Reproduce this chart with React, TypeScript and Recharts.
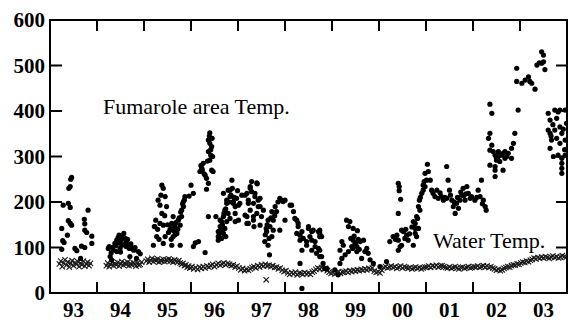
import React from "react";
import { ScatterChart, Scatter, XAxis, YAxis } from "recharts";

// fumarole area temperature, [decimal year, °C]
const fum93 = [
  [1993.46, 254], [1993.44, 250], [1993.43, 234], [1993.4, 230], [1993.28, 193], [1993.39, 197],
  [1993.43, 188], [1993.81, 182], [1993.73, 162], [1993.74, 152], [1993.39, 159], [1993.43, 153],
  [1993.46, 149], [1993.25, 142], [1993.74, 138], [1993.78, 133], [1993.37, 127], [1993.89, 125],
  [1993.27, 115], [1993.3, 111], [1993.89, 109], [1993.53, 98], [1993.57, 93], [1993.67, 103],
  [1993.74, 100], [1993.25, 96], [1993.65, 76],
];
const fum94 = [
  [1994.24, 98], [1994.28, 80], [1994.31, 73], [1994.38, 109], [1994.42, 116], [1994.45, 122],
  [1994.49, 113], [1994.53, 105], [1994.57, 131], [1994.6, 120], [1994.63, 113], [1994.67, 103],
  [1994.69, 98], [1994.74, 100], [1994.81, 100], [1994.88, 91], [1994.7, 80], [1994.84, 76],
  [1994.35, 94], [1994.42, 91], [1994.49, 98], [1994.4, 104], [1994.46, 110], [1994.52, 118],
  [1994.55, 124], [1994.58, 108], [1994.62, 102], [1994.5, 90], [1994.3, 88], [1994.26, 102],
  [1994.65, 118], [1994.72, 108], [1994.78, 94], [1994.92, 86], [1994.47, 127], [1994.33, 100],
];
const fum95 = [
  [1995.38, 237], [1995.41, 230], [1995.3, 204], [1995.45, 212], [1995.34, 193], [1995.48, 190],
  [1995.38, 175], [1995.23, 146], [1995.34, 153], [1995.41, 149], [1995.27, 124], [1995.2, 105],
  [1995.45, 124], [1995.41, 109], [1995.62, 168], [1995.59, 153], [1995.66, 146], [1995.55, 138],
  [1995.7, 131], [1995.62, 124], [1995.77, 149], [1995.8, 168], [1995.84, 190], [1995.87, 212],
  [1995.84, 201], [1995.8, 182], [1995.73, 160], [1995.59, 105], [1995.77, 105], [1995.96, 213],
  [1995.25, 160], [1995.29, 140], [1995.32, 118], [1995.36, 215], [1995.44, 170], [1995.5, 150],
  [1995.52, 133], [1995.57, 142], [1995.64, 136], [1995.68, 155], [1995.72, 140], [1995.75, 165],
  [1995.78, 178], [1995.82, 196], [1995.66, 128], [1995.58, 118], [1995.86, 205], [1995.22, 146],
];
const fum96 = [
  [1996.0, 237], [1996.05, 219], [1996.4, 352], [1996.37, 336], [1996.4, 329], [1996.44, 322],
  [1996.37, 311], [1996.42, 303], [1996.46, 300], [1996.4, 292], [1996.26, 285], [1996.23, 274],
  [1996.19, 267], [1996.3, 259], [1996.33, 252], [1996.44, 270], [1996.37, 241], [1996.33, 228],
  [1996.47, 267], [1996.21, 280], [1996.28, 262], [1996.35, 290], [1996.42, 315], [1996.45, 340],
  [1996.39, 345], [1996.24, 270], [1996.37, 168], [1996.53, 168], [1996.09, 110], [1996.05, 102],
  [1996.16, 113], [1996.3, 89], [1996.87, 248], [1996.79, 226], [1996.83, 212], [1996.76, 197],
  [1996.9, 201], [1996.72, 182], [1996.79, 175], [1996.69, 168], [1996.65, 157], [1996.62, 146],
  [1996.58, 135], [1996.58, 124], [1996.65, 120], [1996.69, 131], [1996.72, 142], [1996.76, 157],
  [1996.83, 164], [1996.94, 190], [1996.97, 208], [1996.74, 124], [1996.69, 219], [1996.83, 226],
  [1996.76, 204], [1996.9, 197], [1996.94, 175], [1996.62, 160], [1996.58, 116], [1996.6, 130],
  [1996.67, 150], [1996.7, 175], [1996.74, 185], [1996.81, 200], [1996.85, 215], [1996.88, 230],
  [1996.92, 210], [1996.99, 225], [1996.63, 138], [1996.94, 157],
];
const fum97 = [
  [1997.01, 193], [1997.08, 215], [1997.04, 197], [1997.19, 168], [1997.01, 160], [1997.29, 245],
  [1997.41, 240], [1997.26, 234], [1997.19, 219], [1997.29, 223], [1997.36, 212], [1997.43, 204],
  [1997.22, 204], [1997.33, 197], [1997.47, 190], [1997.26, 182], [1997.4, 175], [1997.5, 168],
  [1997.33, 160], [1997.19, 153], [1997.47, 149], [1997.4, 242], [1997.26, 230], [1997.36, 219],
  [1997.15, 215], [1997.47, 208], [1997.22, 197], [1997.43, 190], [1997.15, 171], [1997.33, 168],
  [1997.22, 153], [1997.34, 146], [1997.54, 182], [1997.89, 208], [1997.96, 201], [1997.79, 190],
  [1997.72, 179], [1997.82, 179], [1997.64, 160], [1997.75, 160], [1997.68, 146], [1997.61, 135],
  [1997.75, 138], [1997.72, 124], [1997.57, 113], [1997.64, 105], [1997.89, 138], [1997.67, 84],
  [1997.62, 150], [1997.66, 120], [1997.7, 165], [1997.78, 170], [1997.58, 128], [1997.85, 200],
  [1997.92, 204], [1997.6, 142],
];
const fum98 = [
  [1998.0, 160], [1998.0, 204], [1998.11, 193], [1998.14, 193], [1998.18, 179], [1998.21, 164],
  [1998.25, 160], [1998.28, 146], [1998.28, 153], [1998.36, 135], [1998.32, 127], [1998.25, 131],
  [1998.39, 120], [1998.32, 116], [1998.5, 142], [1998.57, 135], [1998.71, 135], [1998.74, 131],
  [1998.53, 124], [1998.64, 113], [1998.46, 113], [1998.36, 94], [1998.57, 94], [1998.71, 98],
  [1998.74, 80], [1998.32, 65], [1998.36, 10], [1998.85, 54], [1998.5, 146], [1998.6, 138],
  [1998.57, 116], [1998.46, 105], [1998.64, 102], [1998.67, 87], [1998.81, 65], [1998.74, 124],
  [1998.78, 124], [1998.74, 138], [1998.74, 94], [1998.78, 80], [1998.89, 54],
];
const fum99 = [
  [1999.06, 51], [1999.13, 40], [1999.17, 65], [1999.31, 160], [1999.38, 157], [1999.35, 146],
  [1999.45, 142], [1999.54, 137], [1999.21, 113], [1999.24, 105], [1999.17, 94], [1999.28, 84],
  [1999.21, 76], [1999.45, 116], [1999.49, 109], [1999.53, 102], [1999.6, 113], [1999.67, 116],
  [1999.42, 102], [1999.35, 91], [1999.53, 91], [1999.74, 98], [1999.63, 76], [1999.77, 87],
  [1999.81, 73], [1999.88, 65], [1999.7, 91], [1999.4, 120], [1999.47, 125], [1999.56, 118],
  [1999.5, 110], [1999.44, 98], [1999.58, 96],
];
const fum00 = [
  [2000.02, 58], [2000.16, 69], [2000.41, 241], [2000.43, 234], [2000.43, 225], [2000.46, 206],
  [2000.41, 175], [2000.23, 113], [2000.3, 124], [2000.38, 127], [2000.41, 116], [2000.52, 135],
  [2000.48, 105], [2000.59, 127], [2000.62, 116], [2000.48, 138], [2000.55, 120], [2000.41, 94],
  [2000.45, 102], [2000.73, 157], [2000.8, 168], [2000.84, 190], [2000.77, 142], [2000.8, 124],
  [2000.73, 105], [2000.77, 131], [2000.77, 153], [2000.82, 164], [2000.84, 142], [2000.87, 182],
  [2000.86, 204], [2000.91, 219], [2000.94, 237], [2000.98, 234], [2000.98, 263], [2000.94, 226],
  [2000.65, 130], [2000.7, 145], [2000.88, 210], [2000.96, 245], [2000.35, 118], [2000.57, 140],
];
const fum01 = [
  [2001.01, 248], [2001.05, 267], [2001.03, 283], [2001.09, 248], [2001.12, 226], [2001.15, 219],
  [2001.23, 226], [2001.19, 212], [2001.26, 208], [2001.33, 212], [2001.37, 204], [2001.44, 278],
  [2001.47, 248], [2001.5, 226], [2001.44, 208], [2001.55, 204], [2001.58, 190], [2001.62, 175],
  [2001.65, 197], [2001.72, 204], [2001.76, 215], [2001.79, 230], [2001.87, 234], [2001.9, 219],
  [2001.83, 204], [2001.69, 186], [2001.94, 208], [2001.52, 215], [2001.6, 200], [2001.67, 210],
  [2001.74, 222], [2001.8, 214], [2001.4, 210], [2001.3, 220], [2001.85, 218], [2001.97, 212],
];
const fum02 = [
  [2002.04, 204], [2002.11, 226], [2002.18, 248], [2002.15, 212], [2002.22, 204], [2002.26, 190],
  [2002.28, 182], [2002.08, 210], [2002.2, 196], [2002.36, 415], [2002.4, 395], [2002.36, 351],
  [2002.33, 340], [2002.36, 314], [2002.43, 311], [2002.47, 303], [2002.5, 296], [2002.36, 281],
  [2002.47, 270], [2002.61, 303], [2002.68, 311], [2002.72, 300], [2002.54, 300], [2002.4, 325],
  [2002.54, 311], [2002.64, 307], [2002.75, 307], [2002.82, 318], [2002.86, 329], [2002.89, 351],
  [2002.68, 296], [2002.5, 292], [2002.57, 289], [2002.47, 278], [2002.64, 270], [2002.47, 256],
  [2002.82, 296], [2002.96, 402], [2002.93, 494], [2002.93, 465],
];
const fum03 = [
  [2003.04, 461], [2003.11, 468], [2003.18, 475], [2003.21, 465], [2003.25, 461], [2003.32, 448],
  [2003.36, 501], [2003.41, 506], [2003.46, 505], [2003.5, 508], [2003.53, 491], [2003.46, 530],
  [2003.5, 523], [2003.6, 395], [2003.64, 380], [2003.6, 358], [2003.64, 351], [2003.67, 336],
  [2003.64, 318], [2003.74, 402], [2003.81, 398], [2003.85, 402], [2003.96, 402], [2003.78, 384],
  [2003.85, 365], [2003.74, 358], [2003.89, 351], [2003.78, 340], [2003.85, 329], [2003.96, 336],
  [2003.71, 300], [2003.81, 303], [2003.89, 296], [2003.96, 303], [2003.89, 285], [2003.89, 274],
  [2003.89, 263], [2003.99, 373], [2003.7, 370], [2003.66, 345], [2003.92, 360], [2003.95, 315],
];

// water temperature, regular samples: start year, step (years), values
const water93 = [64, 70, 58, 66, 73, 61, 68, 57, 65, 71, 60, 67, 63, 69, 58, 66, 62, 70, 59, 64, 68, 60, 65];
const water94 = [60, 66, 58, 63, 68, 60, 65, 62, 67, 59, 64, 69, 61, 66, 63, 68, 60, 65, 62, 67, 64, 59, 66, 61, 63, 68];
const water95 = [
  70, 74, 68, 72, 76, 69, 73, 71, 75, 68, 72, 70, 74, 69, 73, 71, 75, 70, 72, 68, 73, 70, 67, 71,
  66, 63, 65, 60, 62, 57, 59, 55,
];
const water96to99 = [
  55, 58, 53, 56, 52, 57, 54, 58, 55, 59, 57,
  60, 63, 58, 62, 65, 61, 64, 66, 62, 65, 63, 60, 62, 57, 59,
  55, 51, 54, 49, 52, 50,
  53, 56, 58, 55, 60, 57, 62, 59, 63, 60, 61, 58, 60, 56, 57, 53, 55,
  50, 47, 49,
  44, 41, 45, 42, 46, 40, 44, 43, 41, 45, 42, 44, 41, 46,
  48, 52, 55, 53, 56, 52, 54, 49,
  46, 43, 45, 42, 44, 47, 43, 46,
  46, 48, 45, 49, 47, 50, 48, 51, 49, 52, 50, 53, 51, 54, 52, 55,
  48, 45, 47, 44, 50,
];
const water00to03 = [
  56, 58, 55, 57, 59, 56, 58, 54, 57, 59, 55, 58, 56,
  54, 56, 53, 55, 57, 54, 56, 53, 55, 57,
  57, 59, 56, 60, 58, 61, 57, 59, 60, 58, 56,
  55, 57, 54, 56, 58, 55, 53, 56, 57, 54, 56, 58, 55,
  56, 58, 57, 59, 56, 58, 60, 57, 59, 56, 58, 55,
  53, 50, 52, 49, 51, 54,
  56, 58, 57, 60, 62, 61, 64, 63, 66, 68, 67, 70, 69, 72,
  74, 77, 75, 78, 76, 79, 77, 80, 78, 76, 79, 81, 78, 80, 77, 79, 82, 80, 78,
];
const waterOutlier = [[1997.6, 29]];

const yearTicks = [1994, 1995, 1996, 1997, 1998, 1999, 2000, 2001, 2002, 2003];
const yearLabelTicks = [1993.5, 1994.5, 1995.5, 1996.5, 1997.5, 1998.5, 1999.5, 2000.5, 2001.5, 2002.5, 2003.5];
const tempTicks = [0, 100, 200, 300, 400, 500, 600];
const innerTempTicks = [100, 200, 300, 400, 500];

const pairs = (arr: number[][]) => arr.map(([t, v]) => ({ t, v }));
const series = (start: number, step: number, vals: number[]) =>
  vals.map((v, i) => ({ t: +(start + i * step).toFixed(3), v }));

const fumarole = pairs([...fum93, ...fum94, ...fum95, ...fum96, ...fum97, ...fum98, ...fum99, ...fum00, ...fum01, ...fum02, ...fum03]);
const water = [
  ...series(1993.2, 0.03, water93),
  ...series(1994.2, 0.03, water94),
  ...series(1995.05, 0.03, water95),
  ...series(1995.98, 0.04, water96to99),
  ...series(2000.1, 0.04, water00to03),
  ...pairs(waterOutlier),
];

const W = 568;
const H = 324;
const Y_AXIS_W = 50;
const X_AXIS_H = 31;
const MARGIN = { top: 20, right: 1, bottom: 0, left: 0 };
const X_DOMAIN = [1993, 2004];
const Y_DOMAIN = [0, 600];
const TICK = 11;

// plot box, same as the chart's offsets
const plotL = MARGIN.left + Y_AXIS_W;
const plotT = MARGIN.top;
const plotR = W - MARGIN.right;
const plotB = H - MARGIN.bottom - X_AXIS_H;
const sx = (t: number) => plotL + ((t - X_DOMAIN[0]) / (X_DOMAIN[1] - X_DOMAIN[0])) * (plotR - plotL);
const sy = (v: number) => plotB - ((v - Y_DOMAIN[0]) / (Y_DOMAIN[1] - Y_DOMAIN[0])) * (plotB - plotT);

const serif = "Liberation Serif";
const tickFont = { fontFamily: serif, fontWeight: 700, fontSize: 21, fill: "#000" };

const Dot = (p: any) => <circle cx={p.cx} cy={p.cy} r={2.6} fill="#000" />;
const Cross = (p: any) => (
  <g stroke="#1a1a1a" strokeWidth={1.1}>
    <line x1={p.cx - 2.7} y1={p.cy - 2.7} x2={p.cx + 2.7} y2={p.cy + 2.7} />
    <line x1={p.cx - 2.7} y1={p.cy + 2.7} x2={p.cx + 2.7} y2={p.cy - 2.7} />
  </g>
);

// box frame with inward ticks on all four sides
function Frame() {
  return (
    <svg width={W} height={H} style={{ position: "absolute", left: 0, top: 0, pointerEvents: "none" }}>
      <g stroke="#000" strokeWidth={2} fill="none">
        <rect x={plotL} y={plotT} width={plotR - plotL} height={plotB - plotT} />
        {yearTicks.map((t) => (
          <g key={t}>
            <line x1={sx(t)} x2={sx(t)} y1={plotB} y2={plotB - TICK} />
            <line x1={sx(t)} x2={sx(t)} y1={plotT} y2={plotT + TICK} />
          </g>
        ))}
        {innerTempTicks.map((v) => (
          <g key={v}>
            <line x1={plotL} x2={plotL + TICK + 1} y1={sy(v)} y2={sy(v)} />
            <line x1={plotR} x2={plotR - TICK} y1={sy(v)} y2={sy(v)} />
          </g>
        ))}
      </g>
    </svg>
  );
}

const labelStyle: React.CSSProperties = {
  position: "absolute",
  fontFamily: serif,
  fontSize: 22,
  lineHeight: "22px",
  color: "#000",
  whiteSpace: "nowrap",
};

export default function App() {
  return (
    <div style={{ position: "absolute", left: 0, top: 0, width: W, height: H, background: "#fff" }}>
      <ScatterChart width={W} height={H} margin={MARGIN}>
        <XAxis xAxisId="t" type="number" dataKey="t" domain={X_DOMAIN} ticks={yearLabelTicks}
          height={X_AXIS_H} tickSize={0} tickMargin={9} axisLine={false} tickLine={false} tick={tickFont}
          tickFormatter={(v: number) => String(Math.floor(v)).slice(2)} allowDataOverflow />
        <YAxis yAxisId="v" type="number" dataKey="v" domain={Y_DOMAIN} ticks={tempTicks} width={Y_AXIS_W}
          tickSize={0} tickMargin={5} tickLine={false} axisLine={false} tick={tickFont} allowDataOverflow />
        <Scatter name="Water Temp." data={water} xAxisId="t" yAxisId="v" shape={Cross} isAnimationActive={false} />
        <Scatter name="Fumarole area Temp." data={fumarole} xAxisId="t" yAxisId="v" shape={Dot} isAnimationActive={false} />
      </ScatterChart>
      <Frame />
      <div style={{ ...labelStyle, left: 103, top: 96 }}>Fumarole area Temp.</div>
      <div style={{ ...labelStyle, left: 433, top: 230 }}>Water Temp.</div>
    </div>
  );
}
